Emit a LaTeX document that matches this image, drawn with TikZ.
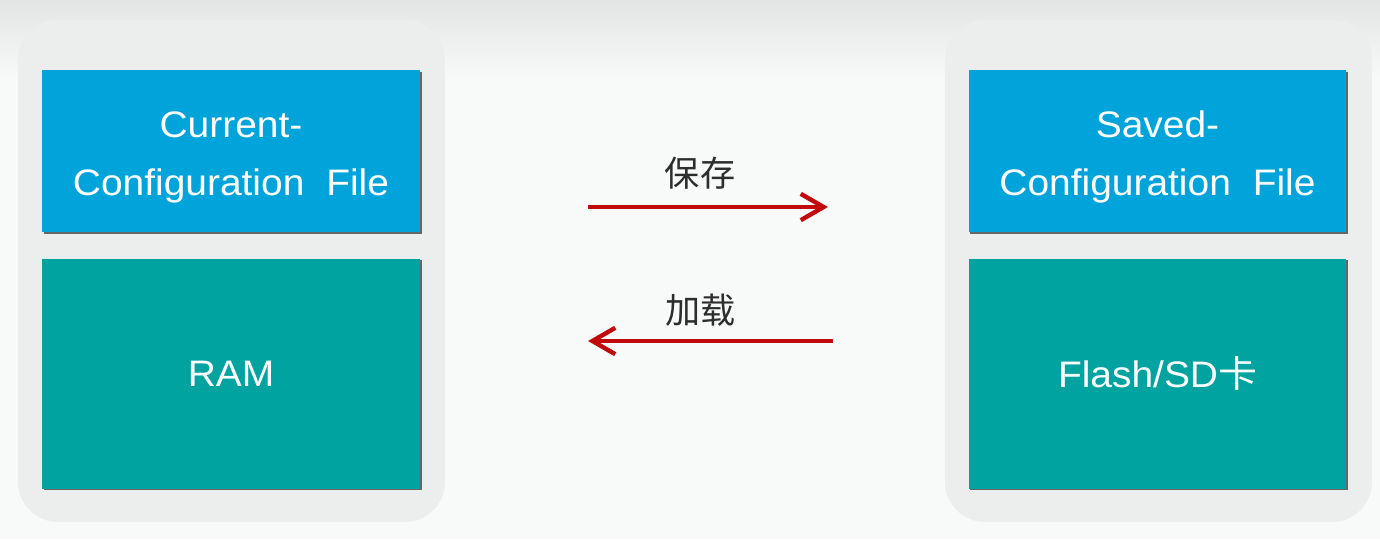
\documentclass[tikz,border=0pt]{standalone}
\usepackage{fontspec}
\setmainfont{Liberation Sans}
\newfontfamily\boxfont[FakeStretch=1.055]{Liberation Sans}
\newfontfamily\cjk{Noto Sans CJK SC}
\newfontfamily\boxcjk[FakeStretch=1.055]{Noto Sans CJK SC}
\usetikzlibrary{arrows.meta,positioning,shadows}

\definecolor{cfgblue}{RGB}{0,163,218}
\definecolor{memteal}{RGB}{0,163,160}
\definecolor{panelgray}{RGB}{236,238,237}
\definecolor{pagebg}{RGB}{248,250,249}
\definecolor{topgray}{RGB}{226,229,227}
\definecolor{arrowred}{RGB}{192,10,12}
\definecolor{labelgray}{RGB}{45,45,45}

\begin{document}
\begin{tikzpicture}[
    x=0.02cm, y=-0.02cm,
    node distance=0.52cm,
    panel/.style={
        rectangle, rounded corners=0.8cm, fill=panelgray,
        minimum width=8.54cm, minimum height=10.04cm
    },
    box/.style={
        rectangle, minimum width=7.56cm, text=white, align=center,
        font=\boxfont\fontsize{21}{33}\selectfont,
        drop shadow={shadow xshift=0.035cm, shadow yshift=-0.035cm, fill=black!60, opacity=1}
    },
    filebox/.style={box, fill=cfgblue, minimum height=3.24cm},
    membox/.style={box, fill=memteal, minimum height=4.6cm},
    boxtext/.style={text=white, align=center, font=\boxfont\fontsize{21}{33}\selectfont},
    action/.style={font=\cjk\fontsize{20}{24}\selectfont, text=labelgray},
    flow/.style={-{Straight Barb[length=13pt,width=15pt]}, line width=2.5pt, color=arrowred}
]
    \useasboundingbox (0,0) rectangle (1380,539);
    \fill[pagebg] (0,0) rectangle (1380,539);
    \shade[top color=topgray, bottom color=pagebg] (0,0) rectangle (1380,80);

    % Panels
    \node[panel] (leftpanel) at (231.5,271) {};
    \node[panel] (rightpanel) at (1158.5,271) {};

    % Nodes
    \node[filebox] (current) at (231,151) {};
    \node[boxtext] (currenttext) at ([yshift=-0.12cm]current.center) {Current-\\Configuration\hspace{.3em} File};
    \node[membox, below=of current] (ram) {RAM};

    \node[filebox] (saved) at (1157.5,151) {};
    \node[boxtext] (savedtext) at ([yshift=-0.12cm]saved.center) {Saved-\\Configuration\hspace{.3em} File};
    \node[membox, below=of saved] (flash) {Flash/SD{\boxcjk 卡}};

    % Connections
    \coordinate (saveL) at (588,207);
    \coordinate (saveR) at (828,207);
    \coordinate (loadL) at (588,341);
    \coordinate (loadR) at (833,341);

    \draw[flow] (saveL) -- node[action, above=0.2cm, xshift=-0.16cm] (savelabel) {保存} (saveR);
    \draw[flow] (loadR) -- node[action, above=0.14cm, xshift=-0.2cm] (loadlabel) {加载} (loadL);

\end{tikzpicture}
\end{document}
